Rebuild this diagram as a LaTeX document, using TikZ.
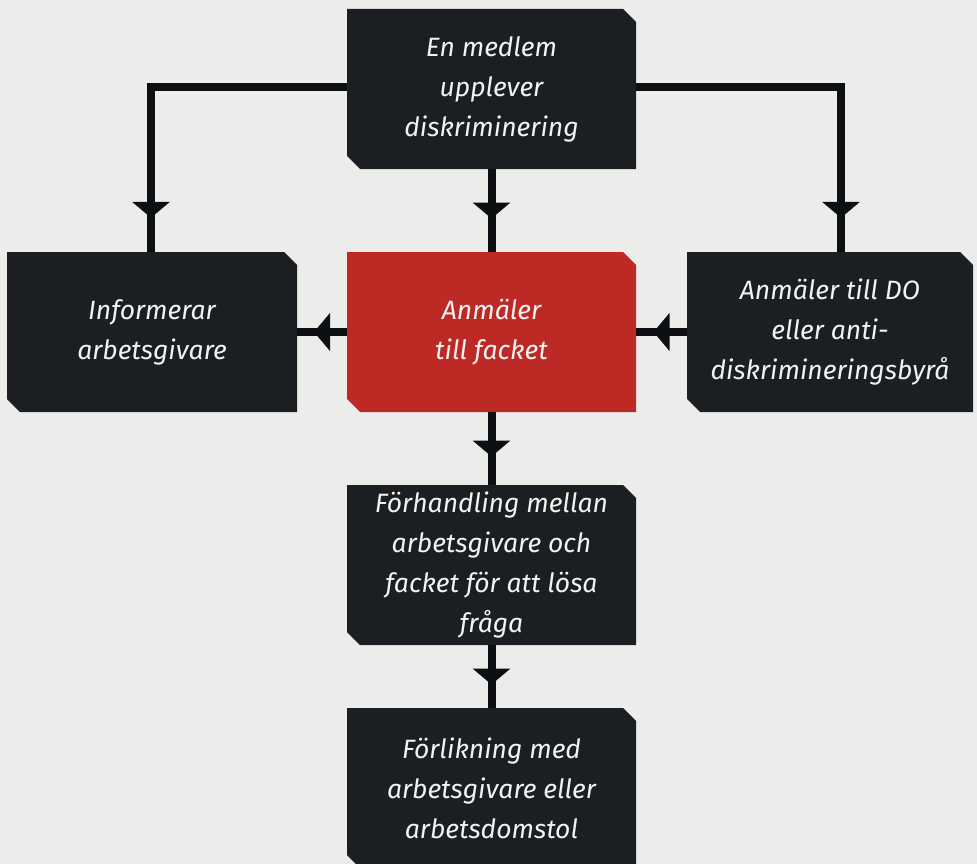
\documentclass[tikz,border=0pt]{standalone}
\usepackage{fontspec}
\setmainfont{Fira Sans}
\usepackage{tikz}
\usetikzlibrary{shapes.misc, arrows.meta, decorations.markings}
\definecolor{paper}{HTML}{ECECEB}
\definecolor{boxdark}{HTML}{1C1F21}
\definecolor{boxred}{HTML}{BD2A26}
\definecolor{linedark}{HTML}{0D1013}
\tikzstyle{box} = [chamfered rectangle, chamfered rectangle corners={north east, south west}, chamfered rectangle xsep=6.5pt, chamfered rectangle ysep=6.5pt, fill=boxdark, text=white!95!black, align=center, inner sep=0pt, minimum width=289pt, minimum height=160pt, font=\fontsize{26.5}{40}\selectfont\itshape]
\tikzstyle{link} = [line width=8pt, draw=linedark]
\tikzset{midtip/.style={postaction={decorate}, decoration={markings, mark=at position #1 with {\arrow[xshift=8pt]{Triangle[length=16pt, width=38pt, line width=0pt]}}}}}

\begin{document}
\begin{tikzpicture}[x=1pt, y=-1pt]
        % background
        \fill[paper] (0,0) rectangle (977,864);
        \useasboundingbox (0,0) rectangle (977,864);
        % boxes
        \node[box] (ask) at (491.5,89) {En medlem\\upplever\\diskriminering};
        \node[box, minimum width=290pt] (inform) at (152,332) {Informerar\\arbetsgivare};
        \node[box, fill=boxred] (union) at (491.5,332) {Anmäler\\till facket};
        \node[box, minimum width=286pt] (report) at (830,332) {Anmäler till DO\\eller anti-\\diskrimineringsbyrå};
        \node[box] (talks) at (491.5,565) {Förhandling mellan\\arbetsgivare och\\facket för att lösa\\fråga};
        \node[box] (settle) at (491.5,788) {Förlikning med\\arbetsgivare eller\\arbetsdomstol};
        % connectors
        \draw[link, midtip=-42pt] ([yshift=2pt]ask.west) -| ([xshift=-1pt]inform.north);
        \draw[link, midtip=-42pt] ([yshift=2pt]ask.east) -| ([xshift=11pt]report.north);
        \draw[link, midtip=0.5] (ask.south) -- (union.north);
        \draw[link, midtip=0.5] (union.west) -- (inform.east);
        \draw[link, midtip=0.5] (report.west) -- (union.east);
        \draw[link, midtip=0.5] (union.south) -- (talks.north);
        \draw[link, midtip=0.5] (talks.south) -- (settle.north);
\end{tikzpicture}
\end{document}
